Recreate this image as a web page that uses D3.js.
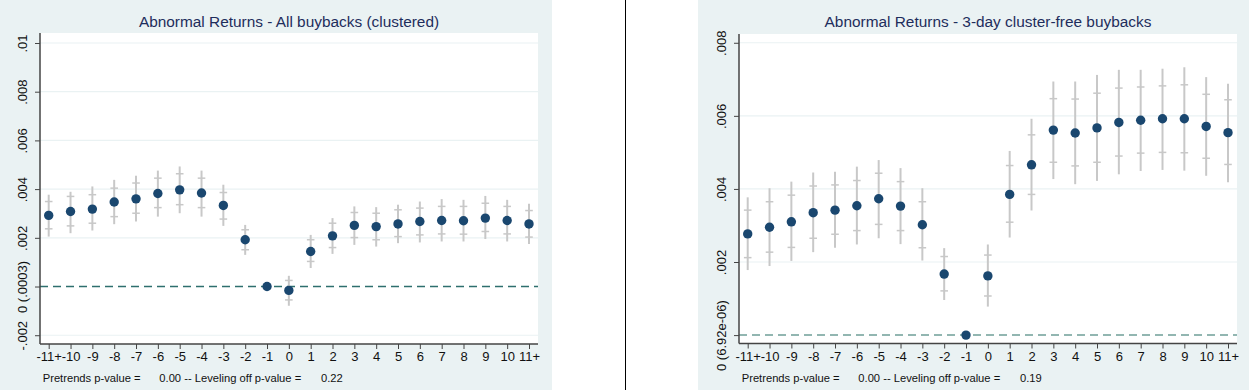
<!DOCTYPE html>
<html>
<head>
<meta charset="utf-8">
<script src="https://cdn.jsdelivr.net/npm/d3@7"></script>
<style>
  body { margin: 0; background: #fff; }
  svg { display: block; font-family: "Liberation Sans", Arial, sans-serif; }
</style>
</head>
<body>
<div id="chart"></div>
<script>
// event-time labels (shared by both panels)
const periods = ["-11+", "-10", "-9", "-8", "-7", "-6", "-5", "-4", "-3", "-2", "-1", "0",
  "1", "2", "3", "4", "5", "6", "7", "8", "9", "10", "11+"];

// left panel: all buybacks (clustered)
const allEst  = [.00292, .00308, .00318, .00347, .00360, .00382, .00397, .00384, .00333, .00192, 0, -.00016,
  .00144, .00208, .00251, .00246, .00257, .00267, .00271, .00270, .00281, .00271, .00257];
const allHi95 = [.00377, .00389, .00411, .00438, .00455, .00476, .00493, .00476, .00418, .00253, null, .00044,
  .00212, .00281, .00329, .00326, .00336, .00349, .00359, .00356, .00372, .00356, .00340];
const allLo95 = [.00205, .00219, .00230, .00256, .00267, .00287, .00301, .00287, .00249, .00130, null, -.00079,
  .00076, .00134, .00171, .00164, .00178, .00181, .00185, .00185, .00195, .00185, .00175];
const allHi90 = [.00349, .00370, .00377, .00404, .00425, .00445, .00463, .00445, .00386, .00233, null, .00025,
  .00192, .00260, .00304, .00301, .00315, .00322, .00329, .00329, .00342, .00329, .00312];
const allLo90 = [.00237, .00249, .00260, .00287, .00301, .00324, .00336, .00324, .00277, .00151, null, -.00055,
  .00103, .00160, .00201, .00192, .00205, .00212, .00216, .00215, .00226, .00216, .00203];
const allTicks = [-.002, 0, .002, .004, .006, .008, .01];
const allTickLabels = ["-.002", "0 (.0003)", ".002", ".004", ".006", ".008", ".01"];

// right panel: 3-day cluster-free buybacks
const freeEst  = [.00277, .00295, .00310, .00335, .00342, .00354, .00373, .00353, .00302, .00167, 0, .00162,
  .00385, .00466, .00561, .00553, .00567, .00582, .00588, .00592, .00592, .00571, .00554];
const freeHi95 = [.00377, .00402, .00420, .00445, .00447, .00461, .00479, .00457, .00402, .00238, null, .00248,
  .00504, .00592, .00694, .00694, .00712, .00726, .00726, .00729, .00733, .00706, .00688];
const freeLo95 = [.00178, .00189, .00203, .00227, .00239, .00248, .00265, .00249, .00204, .00096, null, .00078,
  .00267, .00341, .00427, .00413, .00422, .00440, .00449, .00452, .00450, .00436, .00418];
const freeHi90 = [.00342, .00365, .00383, .00408, .00411, .00423, .00443, .00420, .00365, .00215, null, .00219,
  .00464, .00548, .00647, .00646, .00662, .00676, .00679, .00682, .00685, .00659, .00644];
const freeLo90 = [.00212, .00227, .00240, .00265, .00276, .00286, .00303, .00286, .00239, .00121, null, .00107,
  .00309, .00385, .00473, .00463, .00473, .00490, .00498, .00500, .00499, .00484, .00467];
const freeTicks = [0, .002, .004, .006, .008];
const freeTickLabels = ["0 (6.92e-06)", ".002", ".004", ".006", ".008"];

const W = 1249, H = 390;
const svg = d3.select("#chart").append("svg").attr("width", W).attr("height", H);

// divider between the two graphs
svg.append("line").attr("x1", 625.5).attr("x2", 625.5).attr("y1", 0).attr("y2", H)
  .attr("stroke", "#000").attr("stroke-width", 1);

function drawPanel(p) {
  const g = svg.append("g");
  g.append("rect").attr("x", p.bgX).attr("y", 0).attr("width", p.bgW).attr("height", H).attr("fill", "#eaf2f3");
  g.append("rect").attr("x", p.left).attr("y", p.top).attr("width", p.right - p.left)
    .attr("height", p.bottom - p.top).attr("fill", "#fff");

  const x = d3.scalePoint().domain(periods).range([p.left + 8.7, p.right - 9]);
  const y = d3.scaleLinear().domain(p.domain).range([p.bottom, p.top]);

  // gridlines
  g.selectAll(".grid").data(p.ticks.filter(d => d !== 0)).enter().append("line")
    .attr("x1", p.left).attr("x2", p.right)
    .attr("y1", d => y(d)).attr("y2", d => y(d))
    .attr("stroke", "#eaf2f3").attr("stroke-width", 1.2);

  // reference line at zero
  g.append("line").attr("x1", p.left).attr("x2", p.right)
    .attr("y1", y(0)).attr("y2", y(0))
    .attr("stroke", p.refColor).attr("stroke-width", 1.5).attr("stroke-dasharray", "8,5");

  // confidence intervals
  const rows = periods.map((k, i) => ({k, est: p.est[i], hi95: p.hi95[i], lo95: p.lo95[i], hi90: p.hi90[i], lo90: p.lo90[i]}));
  const ci = rows.filter(d => d.hi95 !== null);
  g.selectAll(".ci").data(ci).enter().append("line")
    .attr("x1", d => x(d.k)).attr("x2", d => x(d.k))
    .attr("y1", d => y(d.hi95)).attr("y2", d => y(d.lo95))
    .attr("stroke", "#c8c8c8").attr("stroke-width", 2);
  ["hi90", "lo90"].forEach(key => {
    g.selectAll(".t" + key).data(ci).enter().append("line")
      .attr("x1", d => x(d.k) - 3.8).attr("x2", d => x(d.k) + 3.8)
      .attr("y1", d => y(d[key])).attr("y2", d => y(d[key]))
      .attr("stroke", "#c8c8c8").attr("stroke-width", 1.5);
  });

  // point estimates
  g.selectAll(".dot").data(rows).enter().append("circle")
    .attr("cx", d => x(d.k)).attr("cy", d => y(d.est)).attr("r", 4.7)
    .attr("fill", "#1a476f");

  // axes
  const yAxis = g.append("g").attr("transform", "translate(" + p.left + ",0)")
    .call(d3.axisLeft(y).tickValues(p.ticks).tickSize(5).tickSizeOuter(0)
      .tickFormat((d, i) => p.tickLabels[i]));
  yAxis.select(".domain").remove();
  yAxis.selectAll(".tick line").attr("stroke", "#444");
  yAxis.selectAll(".tick text")
    .attr("transform", "rotate(-90)")
    .attr("x", 0).attr("y", -13).attr("dy", 0)
    .attr("text-anchor", "middle")
    .attr("font-size", 13).attr("fill", "#111");
  g.append("line").attr("x1", p.left).attr("x2", p.left).attr("y1", p.top).attr("y2", p.bottom)
    .attr("stroke", "#444").attr("stroke-width", 1.5);

  const xAxis = g.append("g").attr("transform", "translate(0," + p.bottom + ")")
    .call(d3.axisBottom(x).tickSize(5).tickSizeOuter(0));
  xAxis.select(".domain").remove();
  xAxis.selectAll(".tick line").attr("stroke", "#444");
  xAxis.selectAll(".tick text").attr("y", 8).attr("dy", "0.71em").attr("font-size", 13).attr("fill", "#111");
  g.append("line").attr("x1", p.left).attr("x2", p.right).attr("y1", p.bottom).attr("y2", p.bottom)
    .attr("stroke", "#444").attr("stroke-width", 1.5);

  // title
  g.append("text").attr("x", (p.left + p.right) / 2).attr("y", 27)
    .attr("text-anchor", "middle").attr("font-size", 15.4).attr("fill", "#1e2d5c")
    .text(p.title);

  // note
  const note = g.append("text").attr("y", 382).attr("font-size", 11.2).attr("fill", "#111");
  note.append("tspan").attr("x", p.left + 2.7).text("Pretrends p-value =");
  note.append("tspan").attr("x", p.left + 119.3).text("0.00 -- Leveling off p-value =");
  note.append("tspan").attr("x", p.left + 281).text(p.pval);
}

drawPanel({
  bgX: 0, bgW: 552, left: 40, right: 538, top: 33, bottom: 344,
  domain: [-0.00236, 0.01041],
  est: allEst, hi95: allHi95, lo95: allLo95, hi90: allHi90, lo90: allLo90,
  ticks: allTicks, tickLabels: allTickLabels,
  refColor: "#2e6f6e",
  title: "Abnormal Returns - All buybacks (clustered)", pval: "0.22"
});

drawPanel({
  bgX: 698, bgW: 551, left: 739, right: 1237, top: 34, bottom: 343.5,
  domain: [-0.00023, 0.00824],
  est: freeEst, hi95: freeHi95, lo95: freeLo95, hi90: freeHi90, lo90: freeLo90,
  ticks: freeTicks, tickLabels: freeTickLabels,
  refColor: "#6f9e98",
  title: "Abnormal Returns - 3-day cluster-free buybacks", pval: "0.19"
});
</script>
</body>
</html>
